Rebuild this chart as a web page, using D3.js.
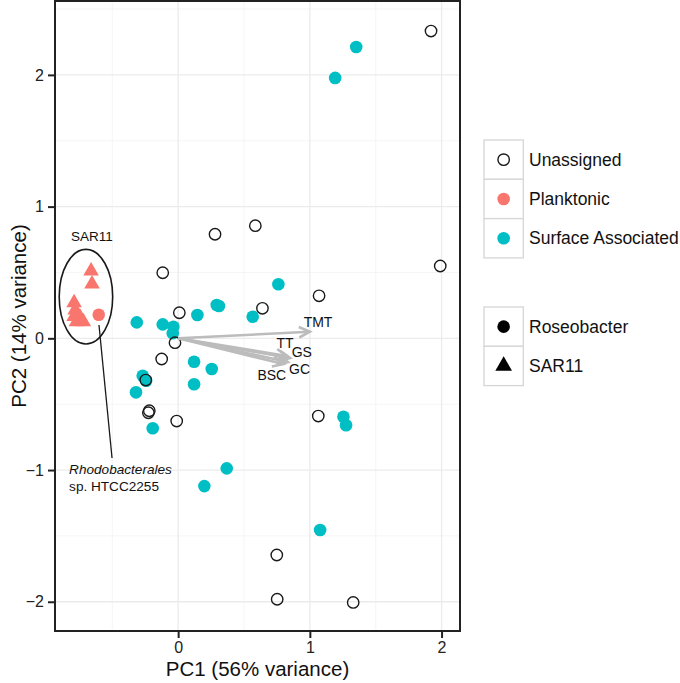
<!DOCTYPE html>
<html>
<head>
<meta charset="utf-8">
<script src="https://cdn.jsdelivr.net/npm/d3@7"></script>
<style>
  html, body { margin: 0; padding: 0; background: #fff; }
  svg { display: block; font-family: "Liberation Sans", Arial, Helvetica, sans-serif; }
</style>
</head>
<body>
<svg id="chart" width="680" height="683"></svg>
<script>
// ---------------- DATA ----------------
const groupLevels = ["Unassigned", "Planktonic", "Surface Associated"];
const cladeLevels = ["Roseobacter", "SAR11"];

// Unassigned (Roseobacter)
const unassignedPC1 = [1.92, 1.99, 0.28, 0.586, -0.117, 1.07, 0.009, 0.64, -0.024, -0.125, -0.246, -0.219, -0.226, -0.011, 1.064, 0.749, 0.752, 1.329];
const unassignedPC2 = [2.333, 0.549, 0.79, 0.855, 0.498, 0.323, 0.194, 0.228, -0.033, -0.157, -0.317, -0.55, -0.565, -0.628, -0.59, -1.645, -1.981, -2.005];

// Surface Associated (Roseobacter)
const surfacePC1 = [1.352, 1.192, 0.761, 0.293, 0.31, 0.146, 0.566, -0.117, -0.036, -0.041, -0.314, 0.121, 0.121, -0.269, -0.243, -0.32, -0.193, 0.255, 0.369, 0.199, 1.255, 1.275, 1.078];
const surfacePC2 = [2.212, 1.977, 0.41, 0.253, 0.245, 0.177, 0.164, 0.106, 0.088, 0.038, 0.121, -0.178, -0.349, -0.284, -0.322, -0.41, -0.683, -0.233, -0.987, -1.122, -0.595, -0.66, -1.455];

// Planktonic (Roseobacter: HTCC2255)
const planktonicRoseoPC1 = [-0.603];
const planktonicRoseoPC2 = [0.179];

// Planktonic (SAR11)
const planktonicSar11PC1 = [-0.661, -0.654, -0.79, -0.782, -0.79, -0.745, -0.772, -0.72];
const planktonicSar11PC2 = [0.511, 0.412, 0.27, 0.215, 0.165, 0.16, 0.125, 0.125];

// Loadings (arrows)
const loadingNames = ["TMT", "TT", "GS", "GC", "BSC"];
const loadingPC1 = [1.0, 0.827, 0.85, 0.834, 0.80];
const loadingPC2 = [0.05, -0.134, -0.15, -0.18, -0.195];
const loadingLabelPC1 = [1.062, 0.812, 0.939, 0.922, 0.711];
const loadingLabelPC2 = [0.126, -0.036, -0.106, -0.234, -0.279];

// Axis ticks
const xTicks = [0, 1, 2];
const yTicks = [-2, -1, 0, 1, 2];
const xMinor = [-0.5, 0.5, 1.5];
const yMinor = [-1.5, -0.5, 0.5, 1.5, 2.5];

// Annotations (data coordinates)
const sarEllipse = { cx: -0.70, cy: 0.316, rx: 0.203, ry: 0.359 };
const sarLabel = { text: "SAR11", x: -0.654, y: 0.739 };
const rhodoLine = { x1: -0.601, y1: 0.101, x2: -0.502, y2: -0.909 };
const rhodoLabel = { x: -0.828, y1: -1.03, y2: -1.157 };

// ---------------- BUILD ----------------
const points = [];
surfacePC1.forEach((v, i) => points.push({ x: v, y: surfacePC2[i], g: "Surface Associated", c: "Roseobacter" }));
unassignedPC1.forEach((v, i) => points.push({ x: v, y: unassignedPC2[i], g: "Unassigned", c: "Roseobacter" }));
planktonicRoseoPC1.forEach((v, i) => points.push({ x: v, y: planktonicRoseoPC2[i], g: "Planktonic", c: "Roseobacter" }));
planktonicSar11PC1.forEach((v, i) => points.push({ x: v, y: planktonicSar11PC2[i], g: "Planktonic", c: "SAR11" }));

const fillColor = d3.scaleOrdinal().domain(groupLevels).range(["none", "#F8766D", "#00BFC4"]);
const strokeColor = d3.scaleOrdinal().domain(groupLevels).range(["#1a1a1a", "none", "none"]);

const svg = d3.select("#chart");
const pLeft = 55, pRight = 460, pTop = 1, pBottom = 631;

const x = d3.scaleLinear().domain([-0.935, 2.14]).range([pLeft, pRight]);
const y = d3.scaleLinear().domain([-2.222, 2.561]).range([pBottom, pTop]);

const panel = svg.append("g");
panel.append("rect").attr("x", pLeft).attr("y", pTop).attr("width", pRight - pLeft).attr("height", pBottom - pTop).attr("fill", "#fff");

// minor grid
panel.selectAll(".xminor").data(xMinor).enter().append("line")
  .attr("x1", d => x(d)).attr("x2", d => x(d)).attr("y1", pTop).attr("y2", pBottom)
  .attr("stroke", "#f2f2f2").attr("stroke-width", 0.8);
panel.selectAll(".yminor").data(yMinor).enter().append("line")
  .attr("y1", d => y(d)).attr("y2", d => y(d)).attr("x1", pLeft).attr("x2", pRight)
  .attr("stroke", "#f2f2f2").attr("stroke-width", 0.8);
// major grid
panel.selectAll(".xmajor").data(xTicks).enter().append("line")
  .attr("x1", d => x(d)).attr("x2", d => x(d)).attr("y1", pTop).attr("y2", pBottom)
  .attr("stroke", "#ebebeb").attr("stroke-width", 1.3);
panel.selectAll(".ymajor").data(yTicks).enter().append("line")
  .attr("y1", d => y(d)).attr("y2", d => y(d)).attr("x1", pLeft).attr("x2", pRight)
  .attr("stroke", "#ebebeb").attr("stroke-width", 1.3);

// points
const tri = d3.symbol().type(d3.symbolTriangle).size(105);
const pts = panel.append("g");
points.forEach(p => {
  if (p.c === "SAR11") {
    pts.append("path").attr("d", tri).attr("transform", `translate(${x(p.x)},${y(p.y)})`)
      .attr("fill", fillColor(p.g));
  } else if (p.g === "Unassigned") {
    pts.append("circle").attr("cx", x(p.x)).attr("cy", y(p.y)).attr("r", 5.7)
      .attr("fill", "none").attr("stroke", strokeColor(p.g)).attr("stroke-width", 1.4);
  } else {
    pts.append("circle").attr("cx", x(p.x)).attr("cy", y(p.y)).attr("r", 6.3)
      .attr("fill", fillColor(p.g));
  }
});

// arrows
const arrowCol = "#bcbcbc";
const ag = panel.append("g");
loadingNames.forEach((n, i) => {
  const x0 = x(0), y0 = y(0), x1 = x(loadingPC1[i]), y1 = y(loadingPC2[i]);
  const ang = Math.atan2(y1 - y0, x1 - x0);
  const L = 12, a = 0.45;
  ag.append("line").attr("x1", x0).attr("y1", y0).attr("x2", x1).attr("y2", y1)
    .attr("stroke", arrowCol).attr("stroke-width", 2.6).attr("stroke-linecap", "butt");
  const p1 = [x1 - L * Math.cos(ang - a), y1 - L * Math.sin(ang - a)];
  const p2 = [x1 - L * Math.cos(ang + a), y1 - L * Math.sin(ang + a)];
  ag.append("path").attr("d", `M${p1[0]},${p1[1]}L${x1},${y1}L${p2[0]},${p2[1]}`)
    .attr("fill", "none").attr("stroke", arrowCol).attr("stroke-width", 2.6).attr("stroke-linejoin", "miter");
});
loadingNames.forEach((n, i) => {
  ag.append("text").attr("x", x(loadingLabelPC1[i])).attr("y", y(loadingLabelPC2[i]))
    .attr("text-anchor", "middle").attr("dominant-baseline", "central")
    .attr("font-size", "14px").attr("fill", "#111").text(n);
});

// annotations
panel.append("ellipse").attr("cx", x(sarEllipse.cx)).attr("cy", y(sarEllipse.cy))
  .attr("rx", x(sarEllipse.rx) - x(0)).attr("ry", y(0) - y(sarEllipse.ry))
  .attr("fill", "none").attr("stroke", "#1a1a1a").attr("stroke-width", 1.6);
panel.append("text").attr("x", x(sarLabel.x)).attr("y", y(sarLabel.y)).attr("text-anchor", "middle")
  .attr("font-size", "13.5px").attr("fill", "#111").text(sarLabel.text);
panel.append("line").attr("x1", x(rhodoLine.x1)).attr("y1", y(rhodoLine.y1)).attr("x2", x(rhodoLine.x2)).attr("y2", y(rhodoLine.y2))
  .attr("stroke", "#1a1a1a").attr("stroke-width", 1.3);
panel.append("text").attr("x", x(rhodoLabel.x)).attr("y", y(rhodoLabel.y1))
  .attr("font-size", "13.6px").attr("font-style", "italic").attr("fill", "#111").text("Rhodobacterales");
panel.append("text").attr("x", x(rhodoLabel.x)).attr("y", y(rhodoLabel.y2))
  .attr("font-size", "13.6px").attr("fill", "#111").text("sp. HTCC2255");

// border
svg.append("rect").attr("x", pLeft).attr("y", pTop).attr("width", pRight - pLeft).attr("height", pBottom - pTop)
  .attr("fill", "none").attr("stroke", "#222").attr("stroke-width", 2);

// axes
const xAxis = svg.append("g").attr("transform", `translate(0,${pBottom})`)
  .call(d3.axisBottom(x).tickValues(xTicks).tickSize(7).tickPadding(4).tickFormat(d3.format("d")));
const yAxis = svg.append("g").attr("transform", `translate(${pLeft},0)`)
  .call(d3.axisLeft(y).tickValues(yTicks).tickSize(7).tickPadding(4).tickFormat(d => d < 0 ? "\u2212" + Math.abs(d) : d));
[xAxis, yAxis].forEach(ax => {
  ax.select(".domain").remove();
  ax.selectAll(".tick line").attr("stroke", "#222").attr("stroke-width", 2);
  ax.selectAll(".tick text").attr("font-size", "16px").attr("fill", "#222")
    .attr("font-family", "'Liberation Sans', Arial, sans-serif");
});

svg.append("text").attr("x", (pLeft + pRight) / 2).attr("y", 676).attr("text-anchor", "middle")
  .attr("font-size", "20.5px").attr("fill", "#111").text("PC1 (56% variance)");
svg.append("text").attr("transform", `translate(26,${(pTop + pBottom) / 2}) rotate(-90)`).attr("text-anchor", "middle")
  .attr("font-size", "20.5px").attr("fill", "#111").text("PC2 (14% variance)");

// legends
const keyX = 484, keyW = 39.3, keyH = 39.3;
const leg1 = svg.append("g");
groupLevels.forEach((g, i) => {
  const ky = 140 + i * keyH;
  leg1.append("rect").attr("x", keyX).attr("y", ky).attr("width", keyW).attr("height", keyH)
    .attr("fill", "#fff").attr("stroke", "#d6d6d6").attr("stroke-width", 1.3);
  const cx = keyX + keyW / 2, cy = ky + keyH / 2;
  if (g === "Unassigned") {
    leg1.append("circle").attr("cx", cx).attr("cy", cy).attr("r", 5.7).attr("fill", "none")
      .attr("stroke", strokeColor(g)).attr("stroke-width", 1.4);
  } else {
    leg1.append("circle").attr("cx", cx).attr("cy", cy).attr("r", 6.3).attr("fill", fillColor(g));
  }
  leg1.append("text").attr("x", 529).attr("y", cy).attr("dominant-baseline", "central")
    .attr("font-size", "17.5px").attr("fill", "#111").text(g);
});
const leg2 = svg.append("g");
cladeLevels.forEach((c, i) => {
  const ky = 307 + i * keyH;
  leg2.append("rect").attr("x", keyX).attr("y", ky).attr("width", keyW).attr("height", keyH)
    .attr("fill", "#fff").attr("stroke", "#d6d6d6").attr("stroke-width", 1.3);
  const cx = keyX + keyW / 2, cy = ky + keyH / 2;
  if (c === "SAR11") {
    leg2.append("path").attr("d", d3.symbol().type(d3.symbolTriangle).size(120))
      .attr("transform", `translate(${cx},${cy})`).attr("fill", "#000");
  } else {
    leg2.append("circle").attr("cx", cx).attr("cy", cy).attr("r", 6.3).attr("fill", "#000");
  }
  leg2.append("text").attr("x", 529).attr("y", cy).attr("dominant-baseline", "central")
    .attr("font-size", "17.5px").attr("fill", "#111").text(c);
});
</script>
</body>
</html>
